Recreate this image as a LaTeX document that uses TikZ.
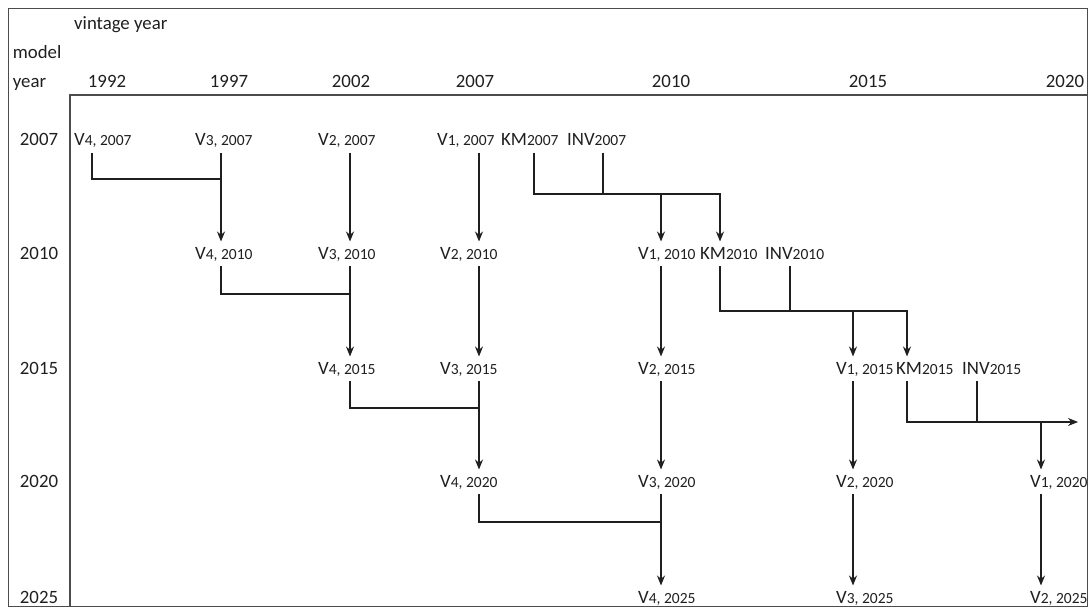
\documentclass[tikz,border=0pt]{standalone}
\usepackage{fontspec}
\setmainfont{Carlito}
\usetikzlibrary{arrows.meta}
\definecolor{LineClr}{rgb}{0.12,0.12,0.12}
\definecolor{TextClr}{rgb}{0.12,0.12,0.12}
\definecolor{FrameClr}{rgb}{0.3,0.3,0.3}
\newcommand{\smallsub}{\fontsize{15.5}{18}\selectfont}
\newcommand{\vin}[2]{V{\smallsub#1, #2}}
\newcommand{\stock}[2]{#1{\smallsub#2}}

\begin{document}
\begin{tikzpicture}[x=1pt,y=-1pt,
  txt/.style={font=\fontsize{18.8}{22}\selectfont,text=TextClr,inner sep=0pt,anchor=base},
  lab/.style={txt,anchor=base west,text height=12.5pt,text depth=2pt,outer ysep=5pt},
  link/.style={draw=LineClr,line width=1.1pt},
  flow/.style={link,-{Stealth[length=10pt,width=8pt]}},
  frame/.style={draw=FrameClr,line width=1.2pt}]
\useasboundingbox (0,0) rectangle (1089,610);

\draw[frame] (8.3,8.3) rectangle (1087.5,606.5);
\draw[frame] (70,606.5) -- (70,95) -- (1087.5,95);

\node[txt,anchor=base west] (vint) at (74,30) {vintage year};
\node[txt,anchor=base west] (model) at (12.7,58.3) {model};
\node[txt,anchor=base west] (myear) at (12.7,87) {year};
\foreach \y/\x in {1992/107,1997/229,2002/351,2007/475,2010/671,2015/868,2020/1065}
  \node[txt] (h\y) at (\x,87) {\y};
\foreach \y/\b in {2007/145.7,2010/259,2015/374,2020/487,2025/603}
  \node[txt] (r\y) at (39,\b) {\y};

\node[lab] (v4r07) at (74,145.7) {\vin{4}{2007}};
\node[lab] (v3r07) at (195,145.7) {\vin{3}{2007}};
\node[lab] (v2r07) at (318,145.7) {\vin{2}{2007}};
\node[lab] (v1r07) at (437,145.7) {\vin{1}{2007}};
\node[lab] (km07) at (501,145.7) {\stock{KM}{2007}};
\node[lab] (inv07) at (567,145.7) {\stock{INV}{2007}};

\node[lab] (v4r10) at (195,259) {\vin{4}{2010}};
\node[lab] (v3r10) at (318,259) {\vin{3}{2010}};
\node[lab] (v2r10) at (440,259) {\vin{2}{2010}};
\node[lab] (v1r10) at (638,259) {\vin{1}{2010}};
\node[lab] (km10) at (700,259) {\stock{KM}{2010}};
\node[lab] (inv10) at (765,259) {\stock{INV}{2010}};

\node[lab] (v4r15) at (318,374) {\vin{4}{2015}};
\node[lab] (v3r15) at (440,374) {\vin{3}{2015}};
\node[lab] (v2r15) at (638,374) {\vin{2}{2015}};
\node[lab] (v1r15) at (836,374) {\vin{1}{2015}};
\node[lab] (km15) at (896,374) {\stock{KM}{2015}};
\node[lab] (inv15) at (962,374) {\stock{INV}{2015}};

\node[lab] (v4r20) at (440,487) {\vin{4}{2020}};
\node[lab] (v3r20) at (638,487) {\vin{3}{2020}};
\node[lab] (v2r20) at (836,487) {\vin{2}{2020}};
\node[lab] (v1r20) at (1030,487) {\vin{1}{2020}};

\node[lab] (v4r25) at (638,603) {\vin{4}{2025}};
\node[lab] (v3r25) at (836,603) {\vin{3}{2025}};
\node[lab] (v2r25) at (1030,603) {\vin{2}{2025}};

\foreach \n/\x in {A/221,B/350,C/479,D/661,E/720,F/853,G/907,H/1041}
  \coordinate (c\n) at (\x,0);
\coordinate (t1) at (92,179);
\coordinate (t2) at (221,294);
\coordinate (t3) at (350,408);
\coordinate (t4) at (479,522);
\coordinate (k1) at (534,194);
\coordinate (i1) at (603,194);
\coordinate (k2) at (720,311);
\coordinate (i2) at (790,311);
\coordinate (k3) at (907,422);
\coordinate (i3) at (977,422);
\coordinate (out) at (1078,422);

\foreach \a/\t/\c in {v4r07/t1/cA,v4r10/t2/cB,v4r15/t3/cC,v4r20/t4/cD}
  \draw[link] (\a.south -| \t) |- (\c |- \t);

\foreach \a/\b/\c in {v3r07/v4r10/cA,v2r07/v3r10/cB,v1r07/v2r10/cC,
    v3r10/v4r15/cB,v2r10/v3r15/cC,v1r10/v2r15/cD,
    v3r15/v4r20/cC,v2r15/v3r20/cD,v1r15/v2r20/cF,
    v3r20/v4r25/cD,v2r20/v3r25/cF,v1r20/v2r25/cH}
  \draw[flow] (\a.south -| \c) -- (\b.north -| \c);

\draw[flow] (km07.south -| k1) -- (k1) -| (km10.north -| cE);
\draw[link] (inv07.south -| i1) -- (i1);
\draw[flow] (cD |- k1) -- (v1r10.north -| cD);

\draw[flow] (km10.south -| k2) -- (k2) -| (km15.north -| cG);
\draw[link] (inv10.south -| i2) -- (i2);
\draw[flow] (cF |- k2) -- (v1r15.north -| cF);

\draw[flow] (km15.south -| k3) -- (k3) -- (out);
\draw[link] (inv15.south -| i3) -- (i3);
\draw[flow] (cH |- k3) -- (v1r20.north -| cH);

\end{tikzpicture}
\end{document}
